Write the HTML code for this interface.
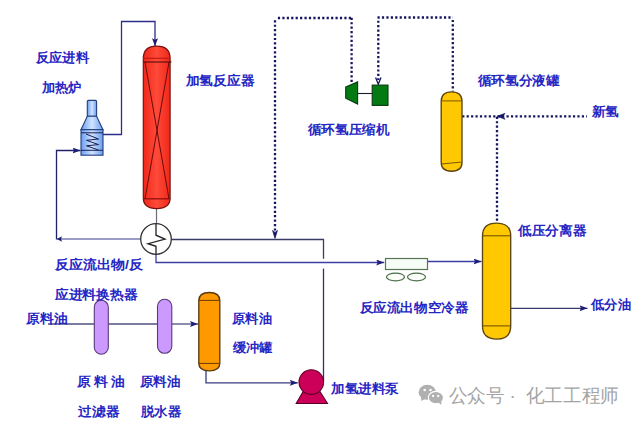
<!DOCTYPE html>
<html><head><meta charset="utf-8">
<style>
html,body{margin:0;padding:0;background:#fff;width:640px;height:422px;overflow:hidden}
svg{display:block}
.t{font-family:"Liberation Sans",sans-serif;font-size:13px;font-weight:bold;fill:#2626c4}
.w{font-family:"Liberation Sans",sans-serif;font-size:18.6px;font-weight:300;fill:#a4a4a4}
</style></head><body>
<svg width="640" height="422" viewBox="0 0 640 422">
<defs>
<linearGradient id="gR" x1="0" x2="1" y1="0" y2="0">
<stop offset="0" stop-color="#f02818"/><stop offset="0.5" stop-color="#ff4a3a"/><stop offset="1" stop-color="#f02818"/>
</linearGradient>
<linearGradient id="gB" x1="0" x2="1" y1="0" y2="0">
<stop offset="0" stop-color="#6a9cf2"/><stop offset="0.5" stop-color="#d0e4ff"/><stop offset="1" stop-color="#6a9cf2"/>
</linearGradient>
<marker id="ar" viewBox="0 0 8 6" refX="8" refY="3" markerWidth="8" markerHeight="6" markerUnits="userSpaceOnUse" orient="auto">
<path d="M0,0 L8,3 L0,6 L1.5,3 z" fill="#1e1e78"/>
</marker>
</defs>

<!-- ===== solid process lines ===== -->
<g fill="none" stroke-width="1.3">
<polyline stroke="#2c2c8a" points="103,134.5 121.5,134.5 121.5,21.5 155,21.5 155,46.2" marker-end="url(#ar)"/>
<polyline stroke="#7a7ab4" points="140.7,239 57,239"/>
<polyline stroke="#20206a" points="56.5,239.5 56.5,150.5 80.5,150.5" marker-end="url(#ar)"/>
<path d="M57,239 L62,236.3 L61,239 L62,241.8 Z" fill="#1a1a6a" stroke="none"/>
<polyline stroke="#3a3a66" points="171.3,239.5 323.5,239.5 323.5,258.7"/>
<polyline stroke="#30307a" points="323.5,268.6 323.5,380.5"/>
<polyline stroke="#3c3ca8" points="156,254 156,262.5 384.2,262.5" marker-end="url(#ar)"/>
<polyline stroke="#3c3ca8" points="427.5,261.5 481.5,261.5" marker-end="url(#ar)"/>
<polyline stroke="#3a3a6a" points="511,308.3 587.5,308.3" marker-end="url(#ar)"/>
<polyline stroke="#505080" points="48,324 94,324"/>
<polyline stroke="#505080" points="108.5,324 157.5,324"/>
<polyline stroke="#505080" points="172,324 198,324" marker-end="url(#ar)"/>
<polyline stroke="#3a3a80" points="206,371 206,382.8 297.8,382.8" marker-end="url(#ar)"/>
</g>
<!-- reactor bottom pipe -->
<line x1="156.5" y1="208.5" x2="156.5" y2="224" stroke="#6c6c74" stroke-width="1.2"/>

<!-- ===== dotted lines ===== -->
<g fill="none" stroke="#161660" stroke-width="2.3" stroke-dasharray="2.2 2.23">
<path d="M275,20.2 V231"/>
<path d="M277.9,18 H352"/>
<path d="M351.6,17.7 V84"/>
<path d="M378.3,20.65 V80"/>
<path d="M377.5,17.5 H453"/>
<path d="M452.8,19.9 V91.5"/>
<path d="M462.2,116.3 H587"/>
<path d="M497,116.7 V223"/>
</g>
<!-- dotted arrowheads -->
<path d="M275,238.3 L272.6,230.5 L275,232.5 L277.4,230.5 Z" fill="#161660" stroke="#161660" stroke-width="0.8"/>
<path d="M375.6,77.5 L378.3,84.2 L381,77.5" fill="none" stroke="#161660" stroke-width="1.3"/>
<path d="M497,116.3 L505,113.3 L503,116.3 L505,119.3 Z" fill="#161660" stroke="#161660" stroke-width="0.6"/>

<!-- ===== furnace ===== -->
<g stroke="#233f7c" stroke-width="1.1" fill="url(#gB)">
<path d="M87.3,116.3 L87.3,101.5 Q87.3,100.4 88.4,100.4 L95.5,100.4 Q96.6,100.4 96.6,101.5 L96.6,116.3 Z"/>
<path d="M87.3,116.3 L96.6,116.3 L103,129.7 L81,129.7 Z"/>
<rect x="81" y="129.7" width="22" height="25.5"/>
</g>
<g stroke="#1a2050" stroke-width="1" fill="none">
<line x1="81" y1="132.8" x2="103" y2="132.8"/>
<line x1="81" y1="150.3" x2="103" y2="150.3"/>
<polyline points="86,134 98.5,139 86.5,140.3 98.5,144.6 86.5,145.8 98.5,150"/>
</g>

<!-- ===== reactor ===== -->
<path d="M143.3,58.7 C143.3,50.2 147.59,46.2 156.7,46.2 C165.81,46.2 170.1,50.2 170.1,58.7 L170.1,198.1 C170.1,205.24 165.81,208.6 156.7,208.6 C147.59,208.6 143.3,205.24 143.3,198.1 Z" fill="url(#gR)" stroke="#7a1010" stroke-width="1.2"/>
<line x1="143.3" y1="58.3" x2="170.1" y2="58.3" stroke="#c41a14" stroke-width="1.2"/>
<line x1="143.5" y1="62" x2="171.5" y2="62" stroke="#400808" stroke-width="1"/>
<line x1="143.2" y1="198.8" x2="170.3" y2="198.8" stroke="#901010" stroke-width="1.3"/>
<g stroke="#6a0a0a" stroke-width="1" fill="none">
<line x1="145" y1="62" x2="169" y2="198.8"/>
<line x1="169" y1="62" x2="145" y2="198.8"/>
</g>

<!-- ===== heat exchanger ===== -->
<circle cx="156" cy="239" r="15.3" fill="#fff" stroke="#333" stroke-width="1.3"/>
<polyline points="156,223.7 156,235.2 165,239.1 148,243.7 156,246.3 156,254.3" fill="none" stroke="#222" stroke-width="1.3"/>

<!-- ===== compressor & motor ===== -->
<path d="M345.7,87 L357.6,81.9 L357.6,104.1 L345.7,98.2 Z" fill="#047a12" stroke="#083a10" stroke-width="1.1"/>
<line x1="357.6" y1="93.5" x2="372" y2="93.5" stroke="#142030" stroke-width="1.1"/>
<rect x="372.2" y="85.1" width="15.8" height="20.3" fill="#047a12" stroke="#083a10" stroke-width="1.1"/>

<!-- ===== H2 drum ===== -->
<path d="M441.2,101.3 C441.2,94.84 444.53,91.8 451.6,91.8 C458.67,91.8 462,94.84 462,101.3 L462,162.2 C462,168.32 458.67,171.2 451.6,171.2 C444.53,171.2 441.2,168.32 441.2,162.2 Z" fill="#ffc800" stroke="#5a4510" stroke-width="1.35"/>
<line x1="441.3" y1="100.9" x2="462" y2="100.9" stroke="#7a5a00" stroke-width="1"/>
<line x1="441.3" y1="164" x2="462" y2="162" stroke="#7a5a00" stroke-width="1"/>

<!-- ===== LP separator ===== -->
<path d="M482.5,235.9 C482.5,227.2 487.01,223.1 496.6,223.1 C506.19,223.1 510.7,227.2 510.7,235.9 L510.7,326.1 C510.7,334.94 506.19,339.1 496.6,339.1 C487.01,339.1 482.5,334.94 482.5,326.1 Z" fill="#ffc800" stroke="#5a4510" stroke-width="1.35"/>
<line x1="482.5" y1="235.8" x2="510.7" y2="235.8" stroke="#6a4a00" stroke-width="1"/>
<line x1="482.5" y1="325.9" x2="510.7" y2="325.9" stroke="#6a4a00" stroke-width="1"/>

<!-- ===== air cooler ===== -->
<rect x="385.5" y="258.5" width="42" height="11" fill="#f6fcf6" stroke="#567456" stroke-width="1.2"/>
<ellipse cx="395.5" cy="277" rx="9" ry="3.8" fill="#fbfdf8" stroke="#4a6e4a" stroke-width="1.2"/>
<ellipse cx="416.5" cy="277" rx="9" ry="3.8" fill="#fbfdf8" stroke="#4a6e4a" stroke-width="1.2"/>

<!-- ===== filter & dehydrator ===== -->
<rect x="94.3" y="300.2" width="14" height="54" rx="7" ry="7" fill="#cc99ff" stroke="#5a3a7a" stroke-width="1.1"/>
<rect x="157.5" y="299.3" width="14.3" height="54" rx="7" ry="7" fill="#cc99ff" stroke="#5a3a7a" stroke-width="1.1"/>

<!-- ===== buffer tank ===== -->
<path d="M198.8,300.7 C198.8,295.12 202.16,292.5 209.3,292.5 C216.44,292.5 219.8,295.12 219.8,300.7 L219.8,363.2 C219.8,368.37 216.44,370.8 209.3,370.8 C202.16,370.8 198.8,368.37 198.8,363.2 Z" fill="#ff9900" stroke="#5a3a10" stroke-width="1.35"/>
<line x1="198.8" y1="300.4" x2="219.8" y2="300.4" stroke="#6a3a00" stroke-width="1"/>
<line x1="198.8" y1="363.4" x2="219.8" y2="363.4" stroke="#6a3a00" stroke-width="1"/>

<!-- ===== pump ===== -->
<path d="M304,390 L296.2,403.5 L327.5,403.5 L319,390 Z" fill="#cc0058" stroke="#5a0028" stroke-width="1.1"/>
<circle cx="311.3" cy="382.1" r="12.3" fill="#cc0058" stroke="#5a0028" stroke-width="1.1"/>

<!-- ===== labels ===== -->
<text class="t" x="35.9" y="62.1" textLength="52.9" lengthAdjust="spacingAndGlyphs">反应进料</text>
<text class="t" x="41.7" y="91.5" textLength="39.8" lengthAdjust="spacingAndGlyphs">加热炉</text>
<text class="t" x="185.6" y="85.2" textLength="68.7" lengthAdjust="spacingAndGlyphs">加氢反应器</text>
<text class="t" x="307.8" y="133.5" textLength="81.5" lengthAdjust="spacingAndGlyphs">循环氢压缩机</text>
<text class="t" x="477.6" y="85.3" textLength="82.0" lengthAdjust="spacingAndGlyphs">循环氢分液罐</text>
<text class="t" x="591.8" y="116.1" textLength="27.3" lengthAdjust="spacingAndGlyphs">新氢</text>
<text class="t" x="518.2" y="234.8" textLength="68.2" lengthAdjust="spacingAndGlyphs">低压分离器</text>
<text class="t" x="55.0" y="268.9" textLength="88.0" lengthAdjust="spacingAndGlyphs">反应流出物/反</text>
<text class="t" x="54.8" y="299.4" textLength="82.9" lengthAdjust="spacingAndGlyphs">应进料换热器</text>
<text class="t" x="26.1" y="323.0" textLength="41.4" lengthAdjust="spacingAndGlyphs">原料油</text>
<text class="t" x="232.1" y="322.6" textLength="39.8" lengthAdjust="spacingAndGlyphs">原料油</text>
<text class="t" x="232.6" y="352.2" textLength="39.8" lengthAdjust="spacingAndGlyphs">缓冲罐</text>
<text class="t" x="359.6" y="312.1" textLength="108.8" lengthAdjust="spacingAndGlyphs">反应流出物空冷器</text>
<text class="t" x="591.0" y="308.6" textLength="40.0" lengthAdjust="spacingAndGlyphs">低分油</text>
<text class="t" x="77.2" y="386.1" textLength="50.3" lengthAdjust="spacingAndGlyphs" letter-spacing="2.8">原料油</text>
<text class="t" x="78.1" y="415.7" textLength="41.2" lengthAdjust="spacingAndGlyphs">过滤器</text>
<text class="t" x="139.7" y="386.1" textLength="40.8" lengthAdjust="spacingAndGlyphs">原料油</text>
<text class="t" x="140.7" y="416.0" textLength="40.3" lengthAdjust="spacingAndGlyphs">脱水器</text>
<text class="t" x="331.0" y="393.4" textLength="67.8" lengthAdjust="spacingAndGlyphs">加氢进料泵</text>

<!-- ===== watermark ===== -->
<g fill="#b0b0b0">
<ellipse cx="427.3" cy="392.3" rx="8.7" ry="7.5"/>
<path d="M421,396.5 L421.3,401 L425.5,398.8 Z"/>
<ellipse cx="435.9" cy="397.6" rx="7.6" ry="6.2" stroke="#fff" stroke-width="1.2"/>
<path d="M438.5,402.5 L441.2,405 L441.5,401 Z"/>
</g>
<g fill="#fff">
<circle cx="424.7" cy="390" r="1.3"/><circle cx="430.5" cy="390" r="1.3"/>
<circle cx="433.1" cy="396" r="1.15"/><circle cx="438.2" cy="396" r="1.15"/>
</g>
<text class="w" x="448.8" y="401.8" textLength="56" lengthAdjust="spacingAndGlyphs">公众号</text>
<text class="w" x="509.5" y="401.8">·</text>
<text class="w" x="525.8" y="401.8" textLength="93" lengthAdjust="spacingAndGlyphs">化工工程师</text>
</svg>
</body></html>
